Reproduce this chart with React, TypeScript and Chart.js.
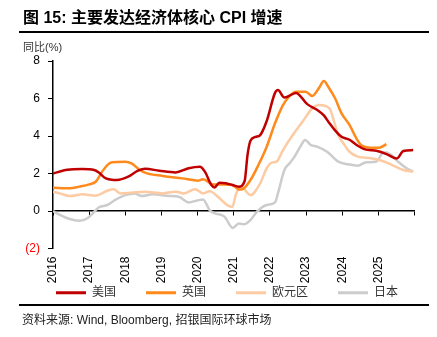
import React, { useEffect, useRef } from "react";
import { Chart, registerables } from "chart.js";

Chart.register(...registerables);

const FONT = "'Liberation Sans', 'Noto Sans CJK SC', sans-serif";

const seriesNames = ["美国", "英国", "欧元区", "日本"];
const seriesColors = ["#C00000", "#FF8A1C", "#FCCBA3", "#CCCCCC"];

const yearStart = 2016;
const yearEnd = 2026;

const usX = [2016.0, 2016.4, 2016.8, 2017.14, 2017.27, 2017.45, 2017.77, 2018.08, 2018.35, 2018.55, 2018.94, 2019.39, 2019.75, 2020.06, 2020.2, 2020.38, 2020.47, 2020.6, 2020.78, 2020.96, 2021.14, 2021.3, 2021.38, 2021.46, 2021.6, 2021.73, 2021.91, 2022.14, 2022.22, 2022.4, 2022.72, 2023.03, 2023.3, 2023.49, 2023.62, 2023.8, 2023.98, 2024.2, 2024.43, 2024.61, 2024.97, 2025.24, 2025.51, 2025.69, 2025.96];
const usY = [2.0, 2.2, 2.24, 2.19, 2.05, 1.75, 1.65, 1.83, 2.15, 2.25, 2.15, 2.06, 2.28, 2.36, 2.1, 1.39, 1.26, 1.51, 1.48, 1.39, 1.3, 1.6, 3.0, 3.75, 3.95, 4.05, 4.8, 6.3, 6.45, 6.05, 6.3, 5.7, 5.4, 5.1, 4.75, 4.3, 3.96, 3.8, 3.48, 3.3, 3.2, 3.02, 2.8, 3.2, 3.25];

const ukX = [2016.0, 2016.46, 2016.73, 2017.0, 2017.18, 2017.36, 2017.5, 2017.63, 2018.0, 2018.17, 2018.4, 2018.58, 2019.03, 2019.57, 2020.02, 2020.15, 2020.42, 2020.74, 2020.96, 2021.14, 2021.23, 2021.46, 2021.68, 2021.91, 2022.14, 2022.36, 2022.54, 2022.72, 2022.99, 2023.17, 2023.35, 2023.49, 2023.62, 2023.8, 2023.98, 2024.2, 2024.39, 2024.52, 2024.79, 2025.02, 2025.22];
const ukY = [1.24, 1.21, 1.3, 1.42, 1.56, 2.1, 2.45, 2.6, 2.63, 2.54, 2.19, 2.02, 1.87, 1.74, 1.62, 1.69, 1.42, 1.42, 1.39, 1.15, 1.16, 1.65, 2.45, 3.43, 4.68, 5.65, 6.13, 6.36, 6.36, 6.13, 6.54, 6.93, 6.6, 6.01, 5.21, 4.59, 3.87, 3.52, 3.38, 3.38, 3.56];

const ezX = [2016.0, 2016.19, 2016.46, 2016.82, 2017.18, 2017.5, 2017.68, 2017.86, 2018.17, 2018.53, 2019.03, 2019.39, 2019.61, 2019.93, 2020.15, 2020.33, 2020.56, 2020.83, 2020.96, 2021.06, 2021.2, 2021.46, 2021.73, 2021.91, 2022.05, 2022.18, 2022.36, 2022.63, 2022.9, 2023.17, 2023.35, 2023.53, 2023.67, 2023.76, 2023.89, 2024.03, 2024.2, 2024.43, 2024.79, 2025.11, 2025.38, 2025.69, 2025.96];
const ezY = [1.03, 0.94, 0.8, 0.89, 0.82, 1.08, 1.16, 0.94, 0.98, 1.03, 0.94, 1.03, 0.94, 1.16, 0.94, 1.05, 0.76, 0.3, 0.22, 0.9, 1.3, 0.85, 1.48, 2.28, 2.58, 2.63, 3.25, 4.05, 4.76, 5.48, 5.65, 5.6, 5.4, 4.85, 4.05, 3.61, 3.16, 2.9, 2.81, 2.67, 2.45, 2.19, 2.1];

const jpX = [2016.0, 2016.19, 2016.46, 2016.73, 2016.95, 2017.14, 2017.27, 2017.5, 2017.72, 2018.0, 2018.26, 2018.44, 2018.76, 2019.21, 2019.48, 2019.75, 2019.97, 2020.15, 2020.33, 2020.47, 2020.74, 2020.97, 2021.14, 2021.28, 2021.46, 2021.64, 2021.91, 2022.14, 2022.22, 2022.4, 2022.54, 2022.68, 2022.86, 2022.97, 2023.13, 2023.3, 2023.58, 2023.89, 2024.16, 2024.43, 2024.66, 2024.93, 2025.15, 2025.33, 2025.56, 2025.78, 2025.96];
const jpY = [0.0, -0.21, -0.43, -0.52, -0.39, -0.04, 0.2, 0.32, 0.59, 0.85, 0.94, 0.8, 0.89, 0.8, 0.76, 0.46, 0.55, 0.62, 0.05, -0.12, -0.3, -0.9, -0.66, -0.71, -0.48, -0.04, 0.32, 0.46, 0.94, 2.19, 2.54, 2.9, 3.5, 3.79, 3.52, 3.43, 3.16, 2.63, 2.49, 2.42, 2.6, 2.63, 3.13, 3.02, 2.6, 2.28, 2.1];

const yMin = -2;
const yMax = 8;
const yStep = 2;

const toPoints = (xs: number[], ys: number[]) => xs.map((x, i) => ({ x, y: ys[i] }));

// moves the built-in legend up into the space next to the rotated year labels
const legendPlace = {
  id: "legendPlace",
  afterLayout(chart: any) {
    const l = chart.legend;
    if (!l) return;
    const targetTop = chart.chartArea.bottom + 8.2;
    const dy = targetTop - l.top;
    l.top += dy;
    l.bottom += dy;
    l.left += 20;
    l.right += 20;
  },
};

export default function App() {
  const ref = useRef<HTMLCanvasElement | null>(null);

  useEffect(() => {
    if (!ref.current) return;
    const allX = [usX, ukX, ezX, jpX];
    const allY = [usY, ukY, ezY, jpY];
    const chart = new Chart(ref.current, {
      type: "line",
      data: {
        datasets: seriesNames.map((name, i) => ({
          label: name,
          data: toPoints(allX[i], allY[i]),
          borderColor: seriesColors[i],
          backgroundColor: seriesColors[i],
          borderWidth: 2.5,
          pointRadius: 0,
          tension: 0.4,
          cubicInterpolationMode: "monotone" as const,
          xAxisID: "x",
          yAxisID: "y",
        })),
      },
      plugins: [legendPlace],
      options: {
        responsive: false,
        animation: false,
        layout: { padding: { left: 6, right: 14, top: 61, bottom: 0.5 } },
        plugins: {
          tooltip: { enabled: false },
          legend: {
            position: "bottom",
            align: "start",
            labels: {
              boxWidth: 30,
              boxHeight: 3,
              padding: 30,
              color: "#333",
              font: { size: 12, family: FONT },
              generateLabels: (c: any) =>
                (Chart.defaults.plugins.legend.labels.generateLabels as any)(c).map((l: any) => ({
                  ...l,
                  lineWidth: 0,
                })),
            },
          },
        },
        scales: {
          x: {
            type: "linear",
            position: "bottom",
            min: yearStart,
            max: yearEnd,
            border: { display: false },
            grid: { display: false, drawTicks: false },
            ticks: {
              stepSize: 1,
              autoSkip: false,
              minRotation: 90,
              maxRotation: 90,
              padding: 8,
              color: "#000",
              font: { size: 12, family: FONT },
              callback: (v: any) => (Number(v) < yearEnd ? String(v) : ""),
            },
            afterFit: (s: any) => {
              s.height = 36;
            },
          },
          x0: {
            type: "linear",
            position: { y: 0 },
            min: yearStart,
            max: yearEnd,
            border: { display: true, color: "#000", width: 1.5 },
            grid: { drawOnChartArea: false, drawTicks: true, tickLength: 4, color: "#000", lineWidth: 1 },
            ticks: { display: false, stepSize: 1 },
          },
          y: {
            type: "linear",
            position: "left",
            min: yMin,
            max: yMax,
            border: { display: true, color: "#000", width: 1.5 },
            grid: { drawOnChartArea: false, drawTicks: true, tickLength: 5, color: "#000", lineWidth: 1 },
            ticks: {
              stepSize: yStep,
              padding: 8,
              font: { size: 12, family: FONT },
              color: (ctx: any) => (ctx.tick && ctx.tick.value < 0 ? "#FF0000" : "#000"),
              callback: (v: any) => (Number(v) < 0 ? `(${-Number(v)})` : String(v)),
            },
            afterFit: (s: any) => {
              s.width = 47;
            },
          },
        } as any,
      },
    });
    return () => chart.destroy();
  }, []);

  return (
    <div style={{ position: "absolute", left: 0, top: 0, width: 437, height: 337, background: "#fff", overflow: "hidden" }}>
      <canvas ref={ref} width={437} height={337} style={{ position: "absolute", left: 0, top: 0, width: 437, height: 337 }} />
      <div
        style={{
          position: "absolute",
          left: 23,
          top: 7,
          fontFamily: FONT,
          fontWeight: "bold",
          fontSize: 16,
          lineHeight: "22px",
          color: "#000",
          whiteSpace: "nowrap",
        }}
      >
        图 15: 主要发达经济体核心 CPI 增速
      </div>
      <div style={{ position: "absolute", left: 19, top: 31, width: 410, height: 2, background: "#000" }} />
      <div
        style={{
          position: "absolute",
          left: 23,
          top: 39,
          fontFamily: FONT,
          fontSize: 11,
          lineHeight: "16px",
          color: "#333",
          whiteSpace: "nowrap",
        }}
      >
        同比(%)
      </div>
      <div style={{ position: "absolute", left: 19, top: 304, width: 410, height: 2, background: "#000" }} />
      <div
        style={{
          position: "absolute",
          left: 22,
          top: 312,
          fontFamily: FONT,
          fontSize: 12,
          lineHeight: "16px",
          color: "#222",
          whiteSpace: "nowrap",
        }}
      >
        资料来源: Wind, Bloomberg, 招银国际环球市场
      </div>
    </div>
  );
}
